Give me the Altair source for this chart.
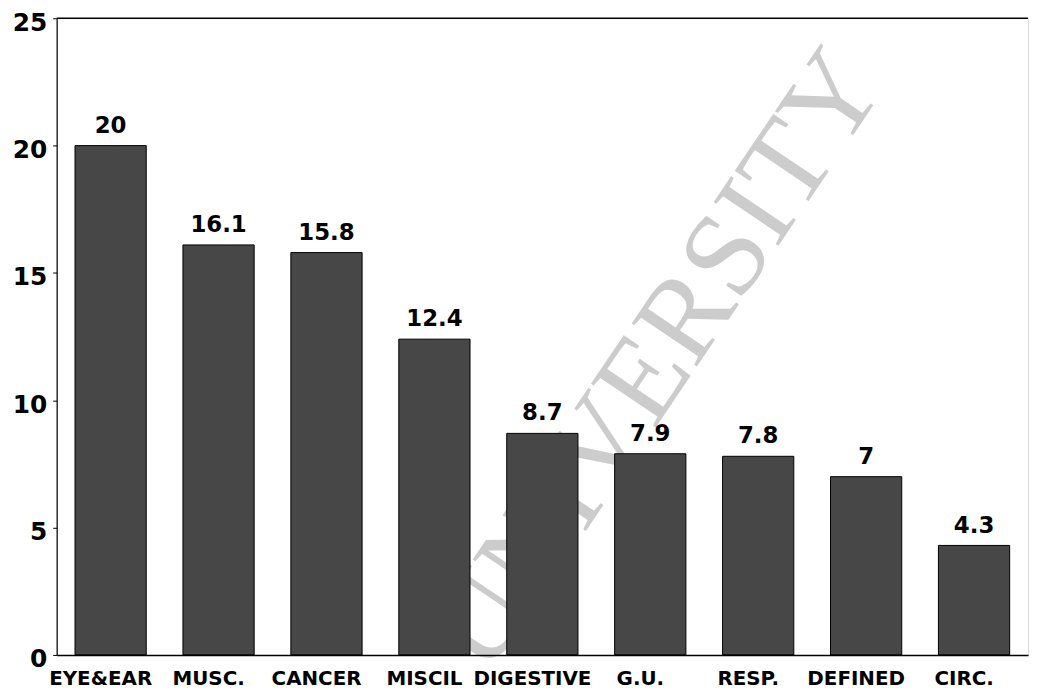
import altair as alt
import pandas as pd

categories = ["EYE&EAR", "MUSC.", "CANCER", "MISCIL", "DIGESTIVE", "G.U.", "RESP.", "DEFINED", "CIRC."]
values = [20, 16.1, 15.8, 12.4, 8.7, 7.9, 7.8, 7, 4.3]
value_labels = ["20", "16.1", "15.8", "12.4", "8.7", "7.9", "7.8", "7", "4.3"]
y_ticks = [0, 5, 10, 15, 20, 25]

df = pd.DataFrame({"cat": categories, "val": values, "lab": value_labels})

x = alt.X("cat:N", sort=categories, title=None,
          scale=alt.Scale(paddingInner=0.34, paddingOuter=0.17),
          axis=alt.Axis(labelAngle=0, ticks=False, domain=True, domainColor="black",
                        domainWidth=1.5, labelFont="DejaVu Sans", labelFontWeight="bold",
                        labelFontSize=20, labelColor="black", labelPadding=14,
                        labelOffset=-10, zindex=1))
y = alt.Y("val:Q", title=None,
          scale=alt.Scale(domain=[0, 25], nice=False),
          axis=alt.Axis(values=y_ticks, grid=False, tickSize=4, tickColor="black",
                        domainColor="black", domainWidth=1.2,
                        labelFont="DejaVu Sans", labelFontWeight="bold",
                        labelFontSize=25, labelColor="black", labelPadding=6,
                        labelOffset=4, zindex=1))

base = alt.Chart(df)

watermark = alt.Chart(pd.DataFrame({"t": ["UNIVERSITY"]})).mark_text(
    font="Liberation Serif", fontSize=120, angle=304, fill="#cccccc",
    align="center", baseline="middle").encode(
    text="t:N", x=alt.value(605), y=alt.value(345))

bars = base.mark_bar(fill="#474747", stroke="black", strokeWidth=1).encode(x=x, y=y)

labels = base.mark_text(baseline="bottom", dy=-8, font="DejaVu Sans",
                        fontSize=23, fontWeight="bold", color="black").encode(
    x=alt.X("cat:N", sort=categories), y="val:Q", text="lab:N")

top_rule = alt.Chart(pd.DataFrame({"v": [25]})).mark_rule(color="black", strokeWidth=1.5).encode(
    y="v:Q")

chart = alt.layer(watermark, bars, labels, top_rule).properties(
    width=978, height=641,
    autosize=alt.AutoSizeParams(type="none"),
    padding={"left": 49, "top": 8, "right": 2, "bottom": 40},
).configure_view(stroke=None).configure(background="white")

chart.save("out.html", embed_options={"renderer": "svg", "actions": False})
